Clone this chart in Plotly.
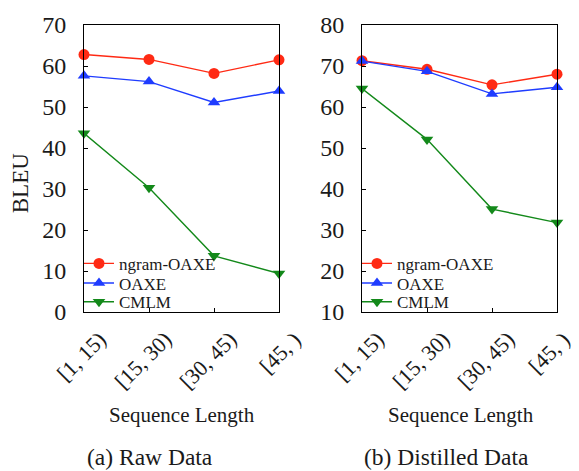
import plotly.graph_objects as go

categories = ["[1, 15)", "[15, 30)", "[30, 45)", "[45, )"]
raw_ngram = [62.8, 61.6, 58.2, 61.5]
raw_oaxe = [57.6, 56.2, 51.1, 53.9]
raw_cmlm = [43.6, 30.3, 13.7, 9.4]
dist_ngram = [71.3, 69.2, 65.4, 68.0]
dist_oaxe = [71.2, 68.7, 63.2, 64.8]
dist_cmlm = [64.5, 52.1, 35.1, 31.8]
series_names = ["ngram-OAXE", "OAXE", "CMLM"]

RED = "#ff2a14"
BLUE = "#1f3cff"
GREEN = "#13891a"
colors = [RED, BLUE, GREEN]
symbols = ["circle", "triangle-up", "triangle-down"]
FONT = "Liberation Serif, Times New Roman, serif"
TXT = "#1a1a1a"

W, H = 579, 471
ml, mr, mt, mb = 84, 22, 20, 159
pw = W - ml - mr
ph = H - mt - mb


def px_x(px):
    return (px - ml) / pw


def px_y(py):
    return (H - mb - py) / ph


d1 = [0, px_x(279)]
d2 = [px_x(362), 1]

xs = list(range(len(categories)))
fig = go.Figure()

legend_rows = [263, 283, 302]
panels = [
    ("x", "y", [raw_ngram, raw_oaxe, raw_cmlm], 0),
    ("x2", "y2", [dist_ngram, dist_oaxe, dist_cmlm], 1),
]
leg_x = [px_x(84 - 5), px_x(362 - 5)]
legend_layouts = {}
for xa, ya, data, p in panels:
    for i, (name, vals) in enumerate(zip(series_names, data)):
        lname = "legend" if (p * 3 + i) == 0 else f"legend{p * 3 + i + 1}"
        fig.add_trace(go.Scatter(x=xs, y=vals, name=name, mode="lines+markers",
                                 line=dict(color=colors[i], width=1.4),
                                 marker=dict(symbol=symbols[i], size=11, color=colors[i]),
                                 cliponaxis=False, xaxis=xa, yaxis=ya, legend=lname))
        legend_layouts[lname] = dict(x=leg_x[p], y=px_y(legend_rows[i]), xanchor="left",
                                     yanchor="middle", bgcolor="rgba(0,0,0,0)",
                                     font=dict(family=FONT, size=17, color=TXT),
                                     itemwidth=30)

common_x = dict(range=[0, 3], tickvals=xs, ticktext=categories, showticklabels=False,
                ticks="inside", ticklen=4, tickcolor="black", showline=True,
                linecolor="black", linewidth=1, mirror=True, showgrid=False, zeroline=False)
common_y = dict(ticks="inside", ticklen=4, tickcolor="black", showline=True,
                linecolor="black", linewidth=1, mirror=True, showgrid=False,
                zeroline=False, dtick=10,
                tickfont=dict(family=FONT, size=24, color=TXT), ticklabelstandoff=12)

fig.update_layout(
    width=W, height=H, margin=dict(l=ml, r=mr, t=mt, b=mb),
    paper_bgcolor="white", plot_bgcolor="white",
    font=dict(family=FONT, color=TXT),
    xaxis=dict(domain=d1, anchor="y", **common_x),
    xaxis2=dict(domain=d2, anchor="y2", **common_x),
    yaxis=dict(domain=[0, 1], anchor="x", range=[0, 70], **common_y),
    yaxis2=dict(domain=[0, 1], anchor="x2", range=[10, 80], **common_y),
    showlegend=True,
    **legend_layouts,
)

tick_font = dict(family=FONT, size=22, color=TXT)
for xref in ["x", "x2"]:
    for i, lab in enumerate(categories):
        shift = 30
        if xref == "x2" and i == len(categories) - 1:
            shift = 21  # keep the last label inside the page
        fig.add_annotation(text=lab, x=xs[i], xref=xref, y=px_y(324), yref="paper",
                           xanchor="right", yanchor="top", xshift=shift, textangle=-45,
                           showarrow=False, font=tick_font)

title_font = dict(family=FONT, size=21, color=TXT)
cap_font = dict(family=FONT, size=23.5, color=TXT)
fig.add_annotation(text="BLEU", x=px_x(20), y=px_y(181), xref="paper", yref="paper",
                   xanchor="center", yanchor="middle", showarrow=False, textangle=-90,
                   font=dict(family=FONT, size=23, color=TXT))
fig.add_annotation(text="Sequence Length", x=px_x(182), y=px_y(417), xref="paper",
                   yref="paper", xanchor="center", yanchor="middle", showarrow=False,
                   font=title_font)
fig.add_annotation(text="Sequence Length", x=px_x(461), y=px_y(417), xref="paper",
                   yref="paper", xanchor="center", yanchor="middle", showarrow=False,
                   font=title_font)
fig.add_annotation(text="(a) Raw Data", x=px_x(150), y=px_y(460), xref="paper",
                   yref="paper", xanchor="center", yanchor="middle", showarrow=False,
                   font=cap_font)
fig.add_annotation(text="(b) Distilled Data", x=px_x(446), y=px_y(460), xref="paper",
                   yref="paper", xanchor="center", yanchor="middle", showarrow=False,
                   font=cap_font)

fig.write_html("out.html")
